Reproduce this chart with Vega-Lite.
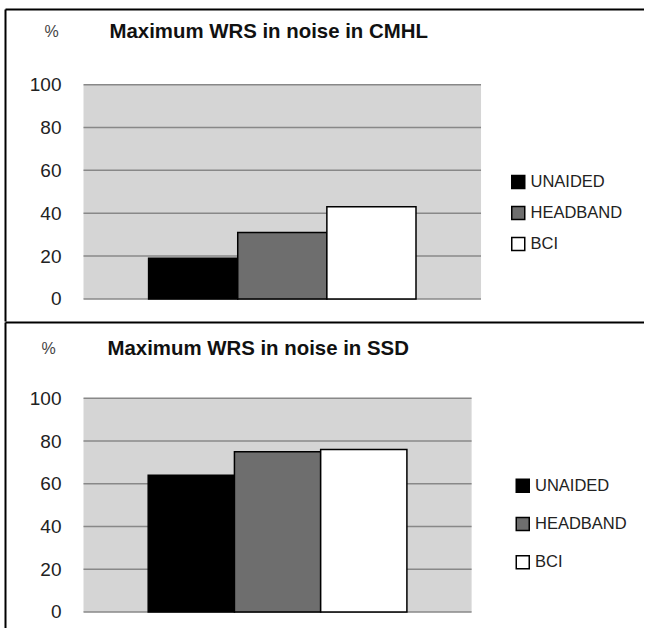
{
  "$schema": "https://vega.github.io/schema/vega-lite/v6.json",
  "background": "white",
  "padding": {"left": 5, "top": 9, "right": 0, "bottom": 0},
  "spacing": 1,
  "config": {"font": "Liberation Sans", "view": {"stroke": null}, "concat": {"spacing": 1}},
  "resolve": {"scale": {"color": "independent", "x": "independent", "y": "independent"}, "legend": {"color": "independent"}},
  "vconcat": [
    {
      "width": 639,
      "height": 312,
      "view": {"stroke": null},
      "data": {"values": [
        {"condition": "UNAIDED", "wrs": 19},
        {"condition": "HEADBAND", "wrs": 31},
        {"condition": "BCI", "wrs": 43}
      ]},
      "resolve": {"scale": {"x": "independent"}, "axis": {"x": "independent"}},
      "layer": [
        {
          "data": {"values": [{"area": "plot"}]},
          "mark": {"type": "rect", "fill": "#d5d5d5"},
          "encoding": {
            "x": {"datum": 0, "type": "quantitative", "scale": {"domain": [-0.1975, 1.41], "nice": false, "zero": false},
                  "axis": {"orient": "top", "domain": true, "domainColor": "#000", "domainWidth": 2, "labels": false, "ticks": false, "grid": false,
                           "title": "Maximum WRS in noise in CMHL", "titleX": 104, "titleY": 22.5, "titleAngle": 0, "titleAlign": "left", "titleBaseline": "middle", "titleFontSize": 20.4, "titleFontWeight": "bold", "titleColor": "#111", "titleLimit": 600}},
            "x2": {"datum": 1},
            "y": {"datum": 0, "type": "quantitative", "scale": {"domain": [-10.3, 135.3], "nice": false, "zero": false},
                  "axis": {"orient": "left", "values": [0, 20, 40, 60, 80, 100], "domain": true, "domainColor": "#000", "domainWidth": 2, "ticks": false, "grid": false, "labelPadding": -56, "labelFontSize": 19, "labelColor": "#222", "labelAlign": "right", "labelBaseline": "middle", "labelFlush": false, "labelOverlap": false, "title": "%", "titleAngle": 0, "titleX": 46, "titleY": 22, "titleAlign": "center", "titleBaseline": "middle", "titleFontSize": 16, "titleFontWeight": "normal", "titleColor": "#444"}},
            "y2": {"datum": 100}
          }
        },
        {
          "data": {"values": [{"g": 0}, {"g": 20}, {"g": 40}, {"g": 60}, {"g": 80}, {"g": 100}]},
          "mark": {"type": "rule", "color": "#888888", "strokeWidth": 1.5},
          "encoding": {
            "x": {"datum": 0, "type": "quantitative", "scale": {"domain": [-0.1975, 1.41], "nice": false, "zero": false}, "axis": null},
            "x2": {"datum": 1},
            "y": {"field": "g", "type": "quantitative"}
          }
        },
        {
          "mark": {"type": "bar", "stroke": "#000", "strokeWidth": 1.5},
          "encoding": {
            "x": {"field": "condition", "type": "nominal", "sort": null,
                  "scale": {"domain": ["UNAIDED", "HEADBAND", "BCI"], "range": [143.6, 411], "paddingInner": 0, "paddingOuter": 0},
                  "axis": null},
            "y": {"field": "wrs", "type": "quantitative"},
            "color": {"field": "condition", "type": "nominal",
                      "scale": {"domain": ["UNAIDED", "HEADBAND", "BCI"], "range": ["#000000", "#6e6e6e", "#ffffff"]},
                      "legend": {"title": null, "orient": "none", "legendX": 505, "legendY": 164.7, "symbolType": "square", "symbolSize": 169, "symbolStrokeColor": "#000", "symbolStrokeWidth": 1.5, "symbolOpacity": 1, "labelFontSize": 16.5, "labelColor": "#222", "labelOffset": 4, "rowPadding": 11, "padding": 0}}
          }
        }
      ]
    },
    {
      "width": 639,
      "height": 306,
      "view": {"stroke": null},
      "data": {"values": [
        {"condition": "UNAIDED", "wrs": 64},
        {"condition": "HEADBAND", "wrs": 75},
        {"condition": "BCI", "wrs": 76}
      ]},
      "resolve": {"scale": {"x": "independent"}, "axis": {"x": "independent"}},
      "layer": [
        {
          "data": {"values": [{"area": "plot"}]},
          "mark": {"type": "rect", "fill": "#d5d5d5"},
          "encoding": {
            "x": {"datum": 0, "type": "quantitative", "scale": {"domain": [-0.2023, 1.4442], "nice": false, "zero": false},
                  "axis": {"orient": "top", "domain": true, "domainColor": "#000", "domainWidth": 2, "labels": false, "ticks": false, "grid": false,
                           "title": "Maximum WRS in noise in SSD", "titleX": 102, "titleY": 26, "titleAngle": 0, "titleAlign": "left", "titleBaseline": "middle", "titleFontSize": 20.4, "titleFontWeight": "bold", "titleColor": "#111", "titleLimit": 600}},
            "x2": {"datum": 1},
            "y": {"datum": 0, "type": "quantitative", "scale": {"domain": [-7.49, 135.7], "nice": false, "zero": false},
                  "axis": {"orient": "left", "values": [0, 20, 40, 60, 80, 100], "domain": true, "domainColor": "#000", "domainWidth": 2, "ticks": false, "grid": false, "labelPadding": -56, "labelFontSize": 19, "labelColor": "#222", "labelAlign": "right", "labelBaseline": "middle", "labelFlush": false, "labelOverlap": false, "title": "%", "titleAngle": 0, "titleX": 43, "titleY": 26, "titleAlign": "center", "titleBaseline": "middle", "titleFontSize": 16, "titleFontWeight": "normal", "titleColor": "#444"}},
            "y2": {"datum": 100}
          }
        },
        {
          "data": {"values": [{"g": 0}, {"g": 20}, {"g": 40}, {"g": 60}, {"g": 80}, {"g": 100}]},
          "mark": {"type": "rule", "color": "#888888", "strokeWidth": 1.5},
          "encoding": {
            "x": {"datum": 0, "type": "quantitative", "scale": {"domain": [-0.2023, 1.4442], "nice": false, "zero": false}, "axis": null},
            "x2": {"datum": 1},
            "y": {"field": "g", "type": "quantitative"}
          }
        },
        {
          "mark": {"type": "bar", "stroke": "#000", "strokeWidth": 1.5},
          "encoding": {
            "x": {"field": "condition", "type": "nominal", "sort": null,
                  "scale": {"domain": ["UNAIDED", "HEADBAND", "BCI"], "range": [143.2, 401.9], "paddingInner": 0, "paddingOuter": 0},
                  "axis": null},
            "y": {"field": "wrs", "type": "quantitative"},
            "color": {"field": "condition", "type": "nominal",
                      "scale": {"domain": ["UNAIDED", "HEADBAND", "BCI"], "range": ["#000000", "#6e6e6e", "#ffffff"]},
                      "legend": {"title": null, "orient": "none", "legendX": 509.5, "legendY": 155.5, "symbolType": "square", "symbolSize": 169, "symbolStrokeColor": "#000", "symbolStrokeWidth": 1.5, "symbolOpacity": 1, "labelFontSize": 16.5, "labelColor": "#222", "labelOffset": 4, "rowPadding": 18.3, "padding": 0}}
          }
        }
      ]
    }
  ]
}
